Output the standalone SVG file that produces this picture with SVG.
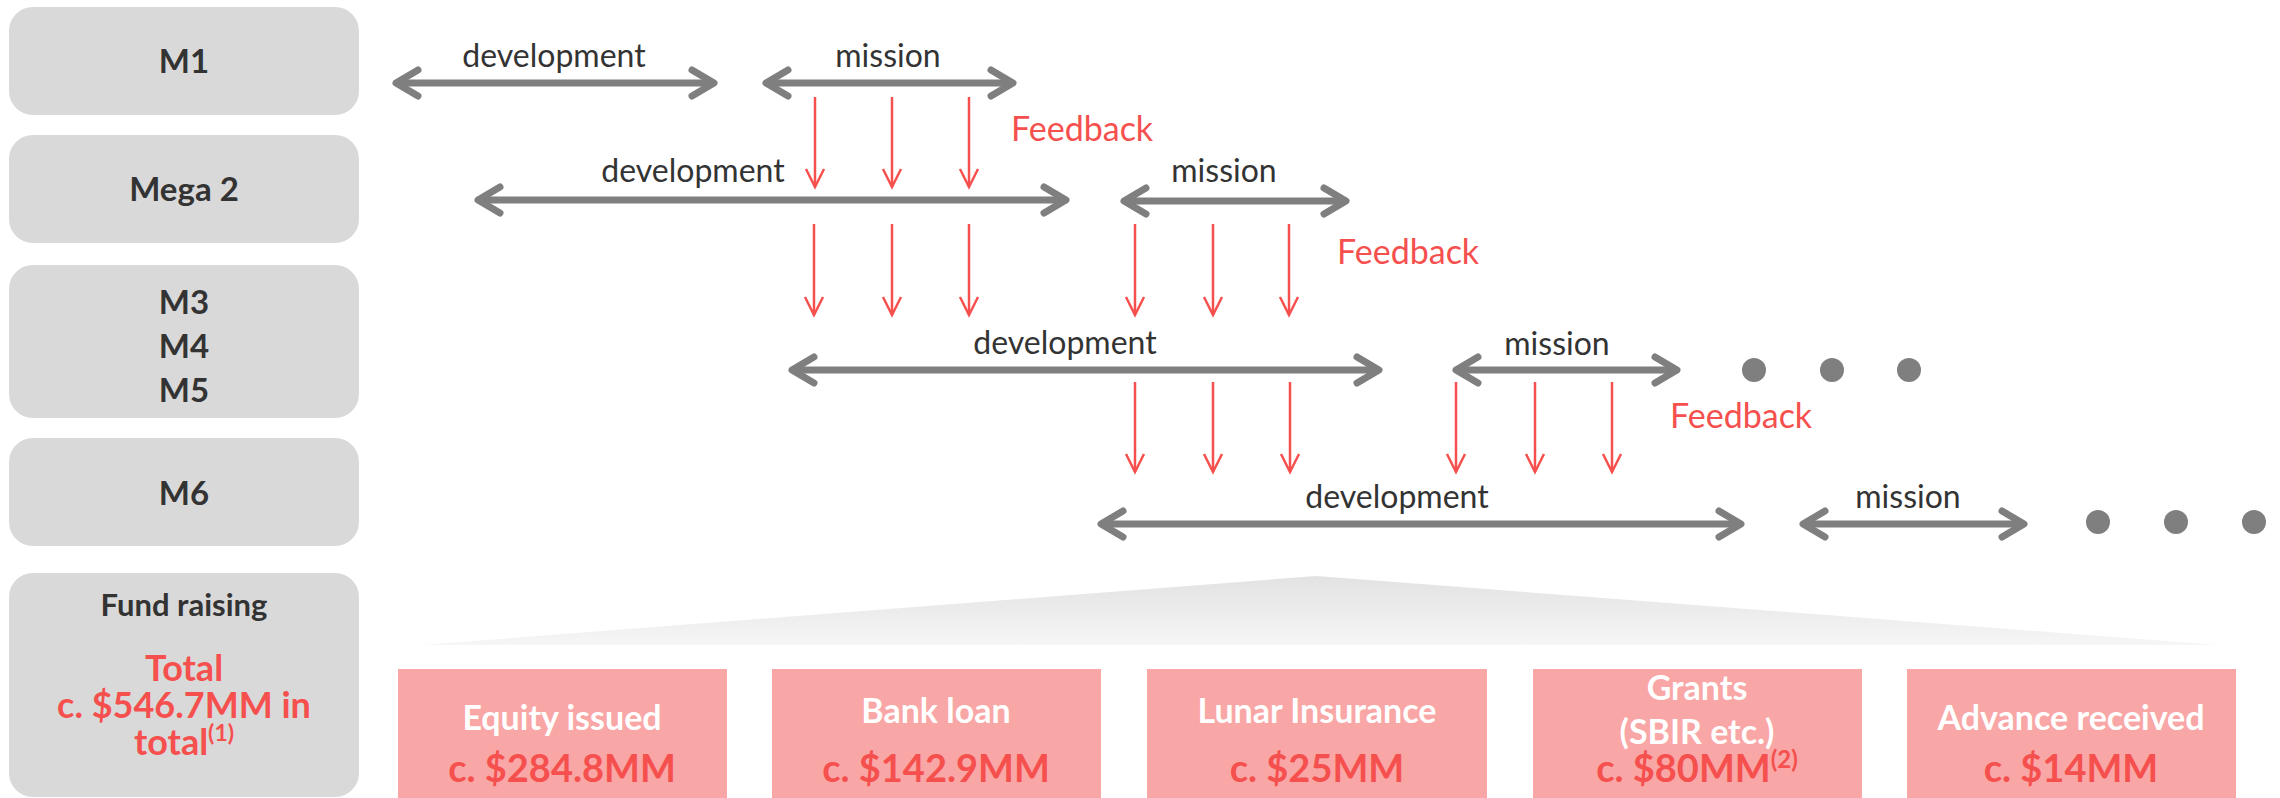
<svg xmlns="http://www.w3.org/2000/svg" width="2280" height="798" viewBox="0 0 2280 798">
<style>
.box{fill:#d9d9d9}
.lbl{font-family:Lato,"Open Sans","Liberation Sans",sans-serif;font-weight:700;font-size:33px;fill:#333;text-anchor:middle}
.fr{font-size:31px}
.tot{font-family:Lato,"Open Sans","Liberation Sans",sans-serif;font-weight:700;font-size:36px;fill:#f5504e;text-anchor:middle}
.phase{font-family:Lato,"Open Sans","Liberation Sans",sans-serif;font-weight:400;font-size:32px;fill:#333;text-anchor:middle}
.fb{font-family:Lato,"Open Sans","Liberation Sans",sans-serif;font-weight:400;font-size:34px;fill:#f5504e}
.ga{stroke:#7f7f7f;stroke-width:7;fill:none;marker-start:url(#gh);marker-end:url(#gh)}
.ra{stroke:#f5504e;stroke-width:2.5;fill:none;marker-end:url(#rh)}
.dot{fill:#7f7f7f}
.pink{fill:#f9a6a6}
.pt{font-family:Lato,"Open Sans","Liberation Sans",sans-serif;font-weight:700;font-size:34px;fill:#fff;text-anchor:middle}
.pa{font-family:Lato,"Open Sans","Liberation Sans",sans-serif;font-weight:700;font-size:38px;fill:#f5504e;text-anchor:middle}
</style>
<defs>
<marker id="gh" markerUnits="userSpaceOnUse" orient="auto-start-reverse" viewBox="-30 -20 40 40" refX="0" refY="0" markerWidth="40" markerHeight="40" overflow="visible">
<path d="M-22,-13 L0,0 L-22,13" fill="none" stroke="#7f7f7f" stroke-width="7" stroke-linecap="round" stroke-linejoin="round"/>
</marker>
<marker id="rh" markerUnits="userSpaceOnUse" orient="auto" viewBox="-25 -15 30 30" refX="0" refY="0" markerWidth="30" markerHeight="30" overflow="visible">
<path d="M-18,-9 L0,0 L-18,9" fill="none" stroke="#f5504e" stroke-width="2.5"/>
</marker>
<linearGradient id="tg" x1="0" y1="0" x2="0" y2="1">
<stop offset="0" stop-color="#e2e2e2"/>
<stop offset="1" stop-color="#f6f6f6"/>
</linearGradient>
</defs>
<rect width="2280" height="798" fill="#fff"/>

<g id="m1"><rect class="box" x="9" y="7" width="350" height="108" rx="24"/><text class="lbl" x="184" y="73">M1</text></g>
<g id="mega2"><rect class="box" x="9" y="135" width="350" height="108" rx="24"/><text class="lbl" x="184" y="201">Mega 2</text></g>
<g id="m345"><rect class="box" x="9" y="265" width="350" height="153" rx="24"/><text class="lbl" x="184" y="314">M3</text><text class="lbl" x="184" y="358">M4</text><text class="lbl" x="184" y="402">M5</text></g>
<g id="m6"><rect class="box" x="9" y="438" width="350" height="108" rx="24"/><text class="lbl" x="184" y="505">M6</text></g>
<g id="fund"><rect class="box" x="9" y="573" width="350" height="224" rx="24"/><text class="lbl fr" x="184" y="616">Fund raising</text>
<text class="tot" x="184" y="681">Total</text>
<text class="tot" x="184" y="718">c. $546.7MM in</text>
<text class="tot" x="184" y="755">total<tspan font-size="23" dy="-14">(1)</tspan></text></g>

<g id="connectors">
<line class="ga" x1="396" y1="83" x2="714" y2="83"/>
<line class="ga" x1="766" y1="83" x2="1013" y2="83"/>
<line class="ga" x1="478" y1="200" x2="1066" y2="200"/>
<line class="ga" x1="1124" y1="201" x2="1346" y2="201"/>
<line class="ga" x1="792" y1="370" x2="1379" y2="370"/>
<line class="ga" x1="1456" y1="370" x2="1677" y2="370"/>
<line class="ga" x1="1101" y1="524" x2="1741" y2="524"/>
<line class="ga" x1="1803" y1="524" x2="2024" y2="524"/>

<line class="ra" x1="815" y1="97" x2="815" y2="187"/>
<line class="ra" x1="892" y1="97" x2="892" y2="187"/>
<line class="ra" x1="969" y1="97" x2="969" y2="187"/>
<line class="ra" x1="814" y1="224" x2="814" y2="315"/>
<line class="ra" x1="892" y1="224" x2="892" y2="315"/>
<line class="ra" x1="969" y1="224" x2="969" y2="315"/>
<line class="ra" x1="1135" y1="224" x2="1135" y2="315"/>
<line class="ra" x1="1213" y1="224" x2="1213" y2="315"/>
<line class="ra" x1="1289" y1="224" x2="1289" y2="315"/>
<line class="ra" x1="1135" y1="382" x2="1135" y2="472"/>
<line class="ra" x1="1213" y1="382" x2="1213" y2="472"/>
<line class="ra" x1="1290" y1="382" x2="1290" y2="472"/>
<line class="ra" x1="1456" y1="382" x2="1456" y2="472"/>
<line class="ra" x1="1535" y1="382" x2="1535" y2="472"/>
<line class="ra" x1="1612" y1="382" x2="1612" y2="472"/>
</g>

<g id="labels">
<text class="phase" x="554" y="67">development</text>
<text class="phase" x="888" y="67">mission</text>
<text class="phase" x="693" y="182">development</text>
<text class="phase" x="1224" y="182">mission</text>
<text class="phase" x="1065" y="354">development</text>
<text class="phase" x="1557" y="355">mission</text>
<text class="phase" x="1397" y="508">development</text>
<text class="phase" x="1908" y="508">mission</text>
<text class="fb" x="1011" y="141">Feedback</text>
<text class="fb" x="1337" y="264">Feedback</text>
<text class="fb" x="1670" y="428">Feedback</text>
</g>

<g id="dots">
<circle class="dot" cx="1754" cy="370" r="12"/>
<circle class="dot" cx="1832" cy="370" r="12"/>
<circle class="dot" cx="1909" cy="370" r="12"/>
<circle class="dot" cx="2098" cy="522" r="12"/>
<circle class="dot" cx="2176" cy="522" r="12"/>
<circle class="dot" cx="2254" cy="522" r="12"/>
</g>

<polygon id="fan" points="422,645 1316,576 2218,645" fill="url(#tg)"/>

<g id="equity"><rect class="pink" x="398" y="669" width="329" height="129"/><text class="pt" x="562" y="730">Equity issued</text><text class="pa" x="562" y="782">c. $284.8MM</text></g>
<g id="bank"><rect class="pink" x="772" y="669" width="329" height="129"/><text class="pt" x="936" y="723">Bank loan</text><text class="pa" x="936" y="782">c. $142.9MM</text></g>
<g id="lunar"><rect class="pink" x="1147" y="669" width="340" height="129"/><text class="pt" x="1317" y="723">Lunar Insurance</text><text class="pa" x="1317" y="782">c. $25MM</text></g>
<g id="grants"><rect class="pink" x="1533" y="669" width="329" height="129"/><text class="pt" x="1697" y="700">Grants</text><text class="pt" x="1697" y="744">(SBIR etc.)</text><text class="pa" x="1697" y="782">c. $80MM<tspan font-size="24" dy="-14">(2)</tspan></text></g>
<g id="advance"><rect class="pink" x="1907" y="669" width="329" height="129"/><text class="pt" x="2071" y="730">Advance received</text><text class="pa" x="2071" y="782">c. $14MM</text></g>
</svg>
